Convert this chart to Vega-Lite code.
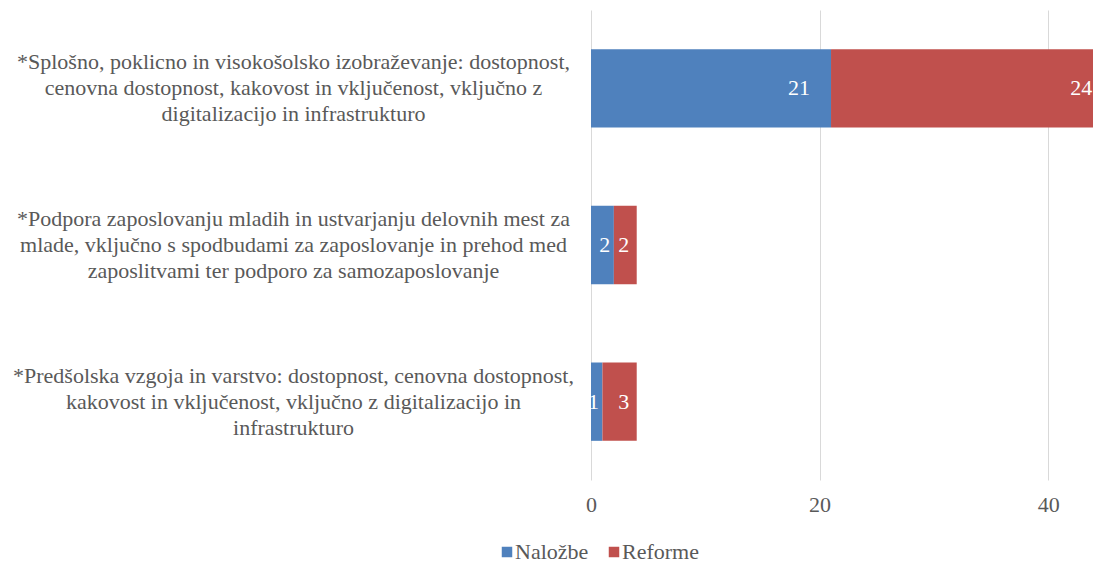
{
  "$schema": "https://vega.github.io/schema/vega-lite/v6.json",
  "autosize": {"type": "none"},
  "padding": {"left": 591, "top": 10, "right": 0, "bottom": 83},
  "width": 502,
  "height": 470,
  "background": "white",
  "config": {
    "view": {"stroke": null},
    "font": "'Liberation Serif', 'DejaVu Serif', serif"
  },
  "data": {
    "values": [
      {"cat": "*Splošno, poklicno in visokošolsko izobraževanje: dostopnost,|cenovna dostopnost, kakovost in vključenost, vključno z|digitalizacijo in infrastrukturo", "ord": 1, "type": "Naložbe", "value": 21},
      {"cat": "*Splošno, poklicno in visokošolsko izobraževanje: dostopnost,|cenovna dostopnost, kakovost in vključenost, vključno z|digitalizacijo in infrastrukturo", "ord": 1, "type": "Reforme", "value": 24},
      {"cat": "*Podpora zaposlovanju mladih in ustvarjanju delovnih mest za|mlade, vključno s spodbudami za zaposlovanje in prehod med|zaposlitvami ter podporo za samozaposlovanje", "ord": 2, "type": "Naložbe", "value": 2},
      {"cat": "*Podpora zaposlovanju mladih in ustvarjanju delovnih mest za|mlade, vključno s spodbudami za zaposlovanje in prehod med|zaposlitvami ter podporo za samozaposlovanje", "ord": 2, "type": "Reforme", "value": 2},
      {"cat": "*Predšolska vzgoja in varstvo: dostopnost, cenovna dostopnost,|kakovost in vključenost, vključno z digitalizacijo in|infrastrukturo", "ord": 3, "type": "Naložbe", "value": 1},
      {"cat": "*Predšolska vzgoja in varstvo: dostopnost, cenovna dostopnost,|kakovost in vključenost, vključno z digitalizacijo in|infrastrukturo", "ord": 3, "type": "Reforme", "value": 3}
    ]
  },
  "encoding": {
    "y": {
      "field": "cat", "type": "nominal",
      "sort": {"field": "ord", "op": "min", "order": "ascending"},
      "scale": {"paddingInner": 0.5, "paddingOuter": 0.25},
      "axis": {
        "title": null, "domain": false, "ticks": false,
        "labelExpr": "split(datum.value, '|')",
        "labelAlign": "center", "labelBaseline": "middle",
        "labelPadding": 298, "labelLineHeight": 26, "labelLimit": 0, "labelOffset": -26,
        "labelFont": "'Liberation Serif', 'DejaVu Serif', serif", "labelFontSize": 22, "labelColor": "#595959"
      }
    }
  },
  "layer": [
    {
      "mark": {"type": "bar", "clip": true},
      "encoding": {
        "x": {
          "field": "value", "type": "quantitative", "aggregate": "sum", "stack": "zero",
          "scale": {"domain": [0, 43.92], "nice": false, "zero": true},
          "axis": {
            "title": null, "values": [0, 20, 40], "grid": true, "gridColor": "#D9D9D9", "gridWidth": 1,
            "domain": false, "ticks": false, "labelPadding": 14, "labelFlush": false,
            "labelFont": "'Liberation Serif', 'DejaVu Serif', serif", "labelFontSize": 22, "labelColor": "#595959"
          }
        },
        "color": {
          "field": "type", "type": "nominal",
          "scale": {"domain": ["Naložbe", "Reforme"], "range": ["#4F81BD", "#C0504D"]},
          "legend": {
            "title": null, "orient": "none", "direction": "horizontal",
            "legendX": -95, "legendY": 531,
            "symbolType": "square", "symbolSize": 110, "symbolStrokeWidth": 0,
            "labelFont": "'Liberation Serif', 'DejaVu Serif', serif", "labelFontSize": 22, "labelColor": "#595959",
            "labelOffset": -3, "columnPadding": 14
          }
        }
      }
    },
    {
      "transform": [{"filter": "datum.type === 'Naložbe' && datum.value > 10"}],
      "mark": {"type": "text", "align": "right", "baseline": "middle", "dx": -21, "color": "white", "fontSize": 22},
      "encoding": {
        "x": {"field": "value", "type": "quantitative"},
        "text": {"field": "value", "type": "quantitative"}
      }
    },
    {
      "mark": {"type": "text", "align": "center", "baseline": "middle", "dx": -9, "color": "white", "fontSize": 22},
      "encoding": {
        "x": {"field": "value", "type": "quantitative", "aggregate": "sum", "stack": "zero"},
        "detail": {"field": "type", "type": "nominal"},
        "text": {"field": "value", "type": "quantitative", "aggregate": "sum"},
        "opacity": {"condition": {"test": "datum.type === 'Naložbe' && datum.sum_value < 10", "value": 1}, "value": 0}
      }
    },
    {
      "mark": {"type": "text", "align": "right", "baseline": "middle", "dx": -13, "color": "white", "fontSize": 22},
      "encoding": {
        "x": {"field": "value", "type": "quantitative", "aggregate": "sum", "stack": "zero"},
        "detail": {"field": "type", "type": "nominal"},
        "text": {"field": "value", "type": "quantitative", "aggregate": "sum"},
        "opacity": {"condition": {"test": "datum.type === 'Reforme' && datum.sum_value > 10", "value": 1}, "value": 0}
      }
    },
    {
      "mark": {"type": "text", "align": "center", "baseline": "middle", "dx": -13, "color": "white", "fontSize": 22},
      "encoding": {
        "x": {"field": "value", "type": "quantitative", "aggregate": "sum", "stack": "zero"},
        "detail": {"field": "type", "type": "nominal"},
        "text": {"field": "value", "type": "quantitative", "aggregate": "sum"},
        "opacity": {"condition": {"test": "datum.type === 'Reforme' && datum.sum_value < 10", "value": 1}, "value": 0}
      }
    }
  ]
}
